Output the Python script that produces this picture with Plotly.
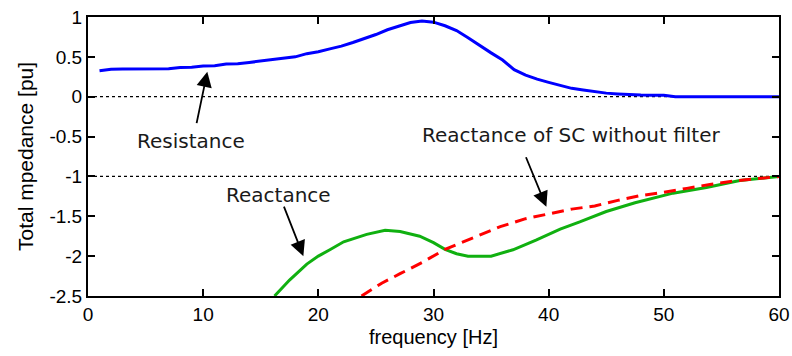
import plotly.graph_objects as go

# ---- data ----
res_f = [1, 2, 3, 4, 5, 6, 7, 8, 9, 10, 11, 12, 13, 14, 15, 16, 17, 18, 19, 20,
         21, 22, 23, 24, 25, 26, 27, 28, 29, 30, 31, 32, 33, 34, 35, 36, 37, 38, 39, 40,
         41, 42, 43, 44, 45, 46, 47, 48, 49, 50, 51, 52, 53, 54, 55, 56, 57, 58, 59, 60]
res_v = [0.325, 0.345, 0.347, 0.347, 0.347, 0.347, 0.35, 0.367, 0.37, 0.384,
         0.39, 0.41, 0.413, 0.43, 0.448, 0.465, 0.48, 0.50, 0.54, 0.565,
         0.60, 0.635, 0.68, 0.726, 0.78, 0.84, 0.89, 0.93, 0.95, 0.935,
         0.89, 0.83, 0.74, 0.64, 0.55, 0.46, 0.34, 0.27, 0.22, 0.18,
         0.14, 0.105, 0.085, 0.065, 0.045, 0.035, 0.025, 0.02, 0.018, 0.017,
         0.0, 0.0, 0.0, 0.0, 0.0, 0.0, 0.0, 0.0, 0.0, 0.0]

reac_f = [16.2, 17.5, 19, 20, 21, 22.2, 24.2, 25.8, 27.1, 28.8, 30, 31, 32, 33, 35, 36,
          36.9, 38.9, 41, 42.7, 45, 47.5, 50.8, 53.7, 56.6, 60]
reac_v = [-2.5, -2.30, -2.10, -2.0, -1.92, -1.82, -1.727, -1.676, -1.69, -1.75, -1.83,
          -1.915, -1.97, -2.0, -2.0, -1.96, -1.92, -1.80, -1.66, -1.57, -1.44, -1.33,
          -1.21, -1.14, -1.05, -1.0]

sc_f = [23.75, 25.5, 27.1, 29, 31, 32.9, 35.8, 38, 41, 42, 44, 46, 48, 50, 52, 54, 56, 58, 60]
sc_v = [-2.5, -2.34, -2.22, -2.08, -1.915, -1.80, -1.63, -1.53, -1.44, -1.41, -1.37,
        -1.30, -1.24, -1.20, -1.15, -1.10, -1.06, -1.03, -1.0]

ref_levels = [0, -1]

x_ticks = [0, 10, 20, 30, 40, 50, 60]
y_ticks = [1, 0.5, 0, -0.5, -1, -1.5, -2, -2.5]
y_ticktext = ["1", "0.5", "0", "-0.5", "-1", "-1.5", "-2", "-2.5"]

fig = go.Figure()

for lvl in ref_levels:
    fig.add_trace(go.Scatter(x=[0, 60], y=[lvl, lvl], mode="lines",
                             line=dict(color="black", width=1.3, dash="dot"),
                             hoverinfo="skip", showlegend=False))

fig.add_trace(go.Scatter(x=res_f, y=res_v, mode="lines",
                         line=dict(color="#0000FF", width=3), showlegend=False))
fig.add_trace(go.Scatter(x=reac_f, y=reac_v, mode="lines",
                         line=dict(color="#10B010", width=3), showlegend=False))
fig.add_trace(go.Scatter(x=sc_f, y=sc_v, mode="lines",
                         line=dict(color="#FF0000", width=3, dash="12px,7px"),
                         showlegend=False))

ann_font = dict(family="DejaVu Sans", size=20, color="#1a1a1a")
arrows = [
    # (tip_x, tip_y, ax, ay)
    (10.36, 0.314, -11, 53),
    (18.7, -2.0, -20, -51),
    (39.8, -1.38, -21, -51),
]
for tx, ty, ax, ay in arrows:
    fig.add_annotation(x=tx, y=ty, xref="x", yref="y", text="", showarrow=True,
                       ax=ax, ay=ay, arrowhead=2, arrowwidth=1.8, arrowsize=1.7,
                       arrowcolor="black", standoff=0, startstandoff=0)

labels = [
    ("Resistance", 8.9, -0.55),
    ("Reactance", 16.5, -1.23),
    ("Reactance of SC without filter", 41.95, -0.48),
]
for t, lx, ly in labels:
    fig.add_annotation(x=lx, y=ly, xref="x", yref="y", text=t, showarrow=False,
                       font=ann_font, xanchor="center", yanchor="middle")

axis_common = dict(showline=True, linecolor="black", linewidth=2, mirror="ticks",
                   ticks="inside", ticklen=7, tickwidth=1.5, tickcolor="black",
                   showgrid=False, zeroline=False, automargin=False,
                   tickfont=dict(family="Liberation Sans, Arial", size=19, color="black"))

fig.update_xaxes(range=[0, 60], tickvals=x_ticks,
                 title=dict(text="frequency [Hz]", standoff=6,
                            font=dict(family="Liberation Sans, Arial", size=20, color="black")),
                 **axis_common)
fig.update_yaxes(range=[-2.5, 1], tickvals=y_ticks, ticktext=y_ticktext,
                 title=dict(text="Total mpedance [pu]", standoff=10,
                            font=dict(family="Liberation Sans, Arial", size=21, color="black")),
                 **axis_common)

fig.update_layout(width=792, height=356, margin=dict(l=88, r=13, t=17, b=60),
                  plot_bgcolor="white", paper_bgcolor="white", showlegend=False)

fig.write_html("out.html")
